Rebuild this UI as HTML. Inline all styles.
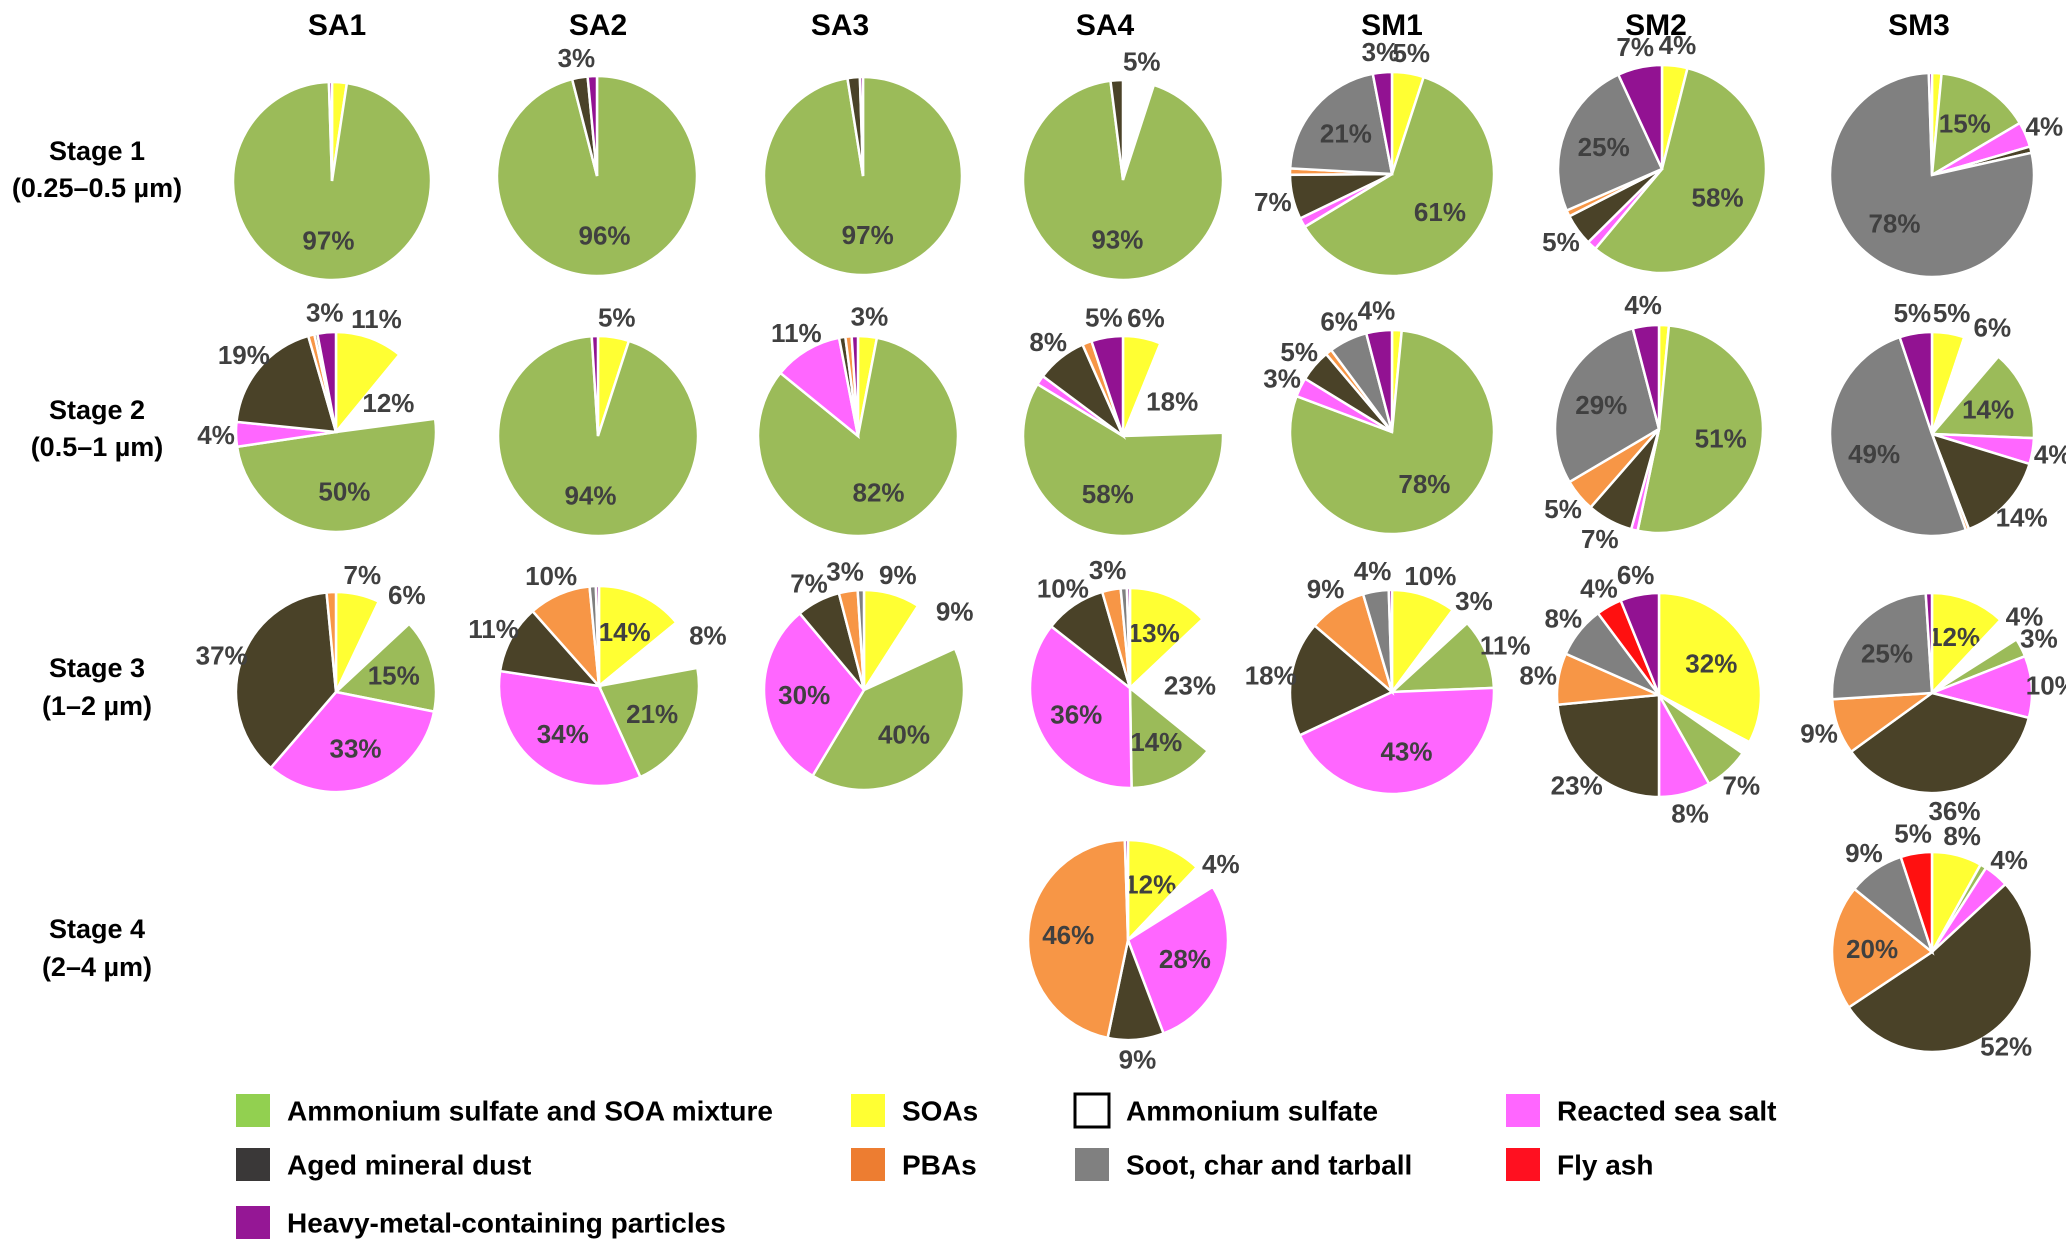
<!DOCTYPE html>
<html><head><meta charset="utf-8">
<style>
html,body{margin:0;padding:0;background:#fff;}
body{width:2066px;height:1244px;overflow:hidden;position:relative;font-family:"Liberation Sans",sans-serif;}
svg{position:absolute;left:0;top:0;}
.ttl{font-weight:bold;font-size:30px;fill:#000;text-anchor:middle;}
.stg{font-weight:bold;font-size:27px;fill:#000;text-anchor:middle;}
.pct{font-family:"Liberation Sans Narrow","Liberation Sans",sans-serif;font-weight:bold;font-size:26px;fill:#404040;text-anchor:middle;dominant-baseline:central;}
.leg{font-weight:bold;font-size:28px;fill:#000;dominant-baseline:central;}
</style></head>
<body>
<svg id="chart" width="2066" height="1244" viewBox="0 0 2066 1244">
<g id="titles"></g><g id="pies"></g><g id="legend"></g>
</svg>
<script>
// categories (slice order, clockwise from 12 o'clock)
const categories = ["SOAs","Ammonium sulfate","Ammonium sulfate and SOA mixture","Reacted sea salt","Aged mineral dust","PBAs","Soot, char and tarball","Fly ash","Heavy-metal-containing particles"];
const sites = ["SA1","SA2","SA3","SA4","SM1","SM2","SM3"];
const stageNames = ["Stage 1","Stage 2","Stage 3","Stage 4"];
const stageRanges = ["(0.25–0.5 µm)","(0.5–1 µm)","(1–2 µm)","(2–4 µm)"];
// values per pie, keyed site-stage
const vSA1_1 = [2.4,0,97,0,0,0,0,0,0.5];
const vSA2_1 = [0,0,96,0,2.5,0,0,0,1.5];
const vSA3_1 = [0,0,97,0,2,0,0,0,0.5];
const vSA4_1 = [0,5,93,0,2,0,0,0,0];
const vSM1_1 = [5,0,61,1.5,7,1,21,0,3];
const vSM2_1 = [4,0,58,1.5,5,1,25,0,7];
const vSM3_1 = [1.5,0,15,4,1,0,78,0,0.5];
const vSA1_2 = [11,12,50,4,19,1,0.5,0,3];
const vSA2_2 = [5,0,94,0,0,0,0,0,1];
const vSA3_2 = [3,0,82,11,1,1,0,0,1];
const vSA4_2 = [6,18,58,1.5,8,1.5,0,0,5];
const vSM1_2 = [1.5,0,78,3,5,1,6,0,4];
const vSM2_2 = [1.5,0,51,1,7,5,29,0,4];
const vSM3_2 = [5,6,14,4,14,0.5,49,0,5];
const vSA1_3 = [7,6,15,33,37,1.5,0,0,0];
const vSA2_3 = [14,8,21,34,11,10,1,0,0.5];
const vSA3_3 = [9,9,40,30,7,3,1,0,0];
const vSA4_3 = [13,23,14,36,10,3,1,0,0.5];
const vSM1_3 = [10,3,11,43,18,9,4,0,0.5];
const vSM2_3 = [32,2,7,8,23,8,8,4,6];
const vSM3_3 = [12,4,3,10,36,9,25,0,1];
const vSA4_4 = [12,4,0,28,9,46,0,0,0.5];
const vSM3_4 = [8,0,1,4,52,20,9,5,0];

const pieColors = ["#FFFF33","#FFFFFF","#9BBB59","#FF66FF","#4A4228","#F79646","#808080","#FF1010","#921292"];
const legColors = ["#FFFF33","#FFFFFF","#92D050","#FF66FF","#3A3838","#ED7D31","#808080","#FF1020","#951795"];

// layout (pixel positions)
const pies = [
 {id:"SA1-1",v:vSA1_1,cx:332,cy:181,r:99},{id:"SA2-1",v:vSA2_1,cx:597,cy:176,r:100},{id:"SA3-1",v:vSA3_1,cx:863,cy:176,r:99},
 {id:"SA4-1",v:vSA4_1,cx:1123,cy:180,r:100},{id:"SM1-1",v:vSM1_1,cx:1392,cy:174,r:102},{id:"SM2-1",v:vSM2_1,cx:1662,cy:169,r:104},{id:"SM3-1",v:vSM3_1,cx:1932,cy:175,r:102},
 {id:"SA1-2",v:vSA1_2,cx:336,cy:432,r:100},{id:"SA2-2",v:vSA2_2,cx:598,cy:436,r:100},{id:"SA3-2",v:vSA3_2,cx:858,cy:436,r:100},
 {id:"SA4-2",v:vSA4_2,cx:1123,cy:436,r:100},{id:"SM1-2",v:vSM1_2,cx:1392,cy:432,r:102},{id:"SM2-2",v:vSM2_2,cx:1659,cy:429,r:104},{id:"SM3-2",v:vSM3_2,cx:1932,cy:434,r:102},
 {id:"SA1-3",v:vSA1_3,cx:336,cy:692,r:100},{id:"SA2-3",v:vSA2_3,cx:599,cy:686,r:100},{id:"SA3-3",v:vSA3_3,cx:864,cy:690,r:100},
 {id:"SA4-3",v:vSA4_3,cx:1130,cy:688,r:100},{id:"SM1-3",v:vSM1_3,cx:1392,cy:692,r:102},{id:"SM2-3",v:vSM2_3,cx:1659,cy:695,r:102},{id:"SM3-3",v:vSM3_3,cx:1932,cy:693,r:100},
 {id:"SA4-4",v:vSA4_4,cx:1128,cy:940,r:100},{id:"SM3-4",v:vSM3_4,cx:1932,cy:952,r:100}
];
const titleX = [337,598,840,1105,1392,1656,1919];
const stageY = [[150,187],[409,446],[667,705],[928,966]];
const NS="http://www.w3.org/2000/svg";
function mk(tag,attrs,parent){const e=document.createElementNS(NS,tag);for(const k in attrs)e.setAttribute(k,attrs[k]);parent.appendChild(e);return e;}

const tg=document.getElementById('titles');
sites.forEach((s,i)=>{
  const t=mk('text',{x:titleX[i],y:35,class:'ttl'},tg);
  
  
  t.textContent=s;
});
stageNames.forEach((s,i)=>{
  const t=mk('text',{x:97,y:stageY[i][0]+10,class:'stg'},tg);
  
  
  t.textContent=s;
  const t2=mk('text',{x:97,y:stageY[i][1]+10,class:'stg'},tg);
  
  
  t2.textContent=stageRanges[i];
});

function angle(frac){return frac*2*Math.PI-Math.PI/2;}
const pg=document.getElementById('pies');
pies.forEach(p=>{
  const g=mk('g',{},pg);
  
  
  const total=p.v.reduce((a,b)=>a+b,0);
  let acc=0;
  p.v.forEach((val,k)=>{
    if(val<=0)return;
    const a0=angle(acc/total),a1=angle((acc+val)/total);acc+=val;
    const x0=p.cx+p.r*Math.cos(a0),y0=p.cy+p.r*Math.sin(a0),x1=p.cx+p.r*Math.cos(a1),y1=p.cy+p.r*Math.sin(a1);
    const large=(a1-a0)>Math.PI?1:0;
    const path=mk('path',{d:`M${p.cx},${p.cy} L${x0},${y0} A${p.r},${p.r} 0 ${large} 1 ${x1},${y1} Z`,fill:pieColors[k],stroke:'#fff','stroke-width':2.5},g);
    
    
    if(val>=2.5){
      const am=(a0+a1)/2;const inside=val>=12&&k!==4;const rr=inside?p.r*0.6:p.r*1.2;
      const t=mk('text',{x:p.cx+rr*Math.cos(am),y:p.cy+rr*Math.sin(am),class:'pct'},g);
      
      
      t.textContent=Math.round(val)+'%';
    }
  });
});

// legend
const legOrder=[2,0,1,3,4,5,6,7,8];
const legPos=[[236,1111],[851,1111],[1075,1111],[1506,1111],[236,1165],[851,1165],[1075,1165],[1506,1165],[236,1223]];
const lg=document.getElementById('legend');
legOrder.forEach((k,i)=>{
  const g=mk('g',{},lg);
  
  
  const [x,y]=legPos[i];
  mk('rect',{x:x,y:y-17,width:34,height:33,fill:legColors[k],stroke:k===1?'#000':'none','stroke-width':3},g);
  const t=mk('text',{x:x+51,y:y,class:'leg'},g);
  t.textContent=categories[k];
});
</script>
</body></html>
